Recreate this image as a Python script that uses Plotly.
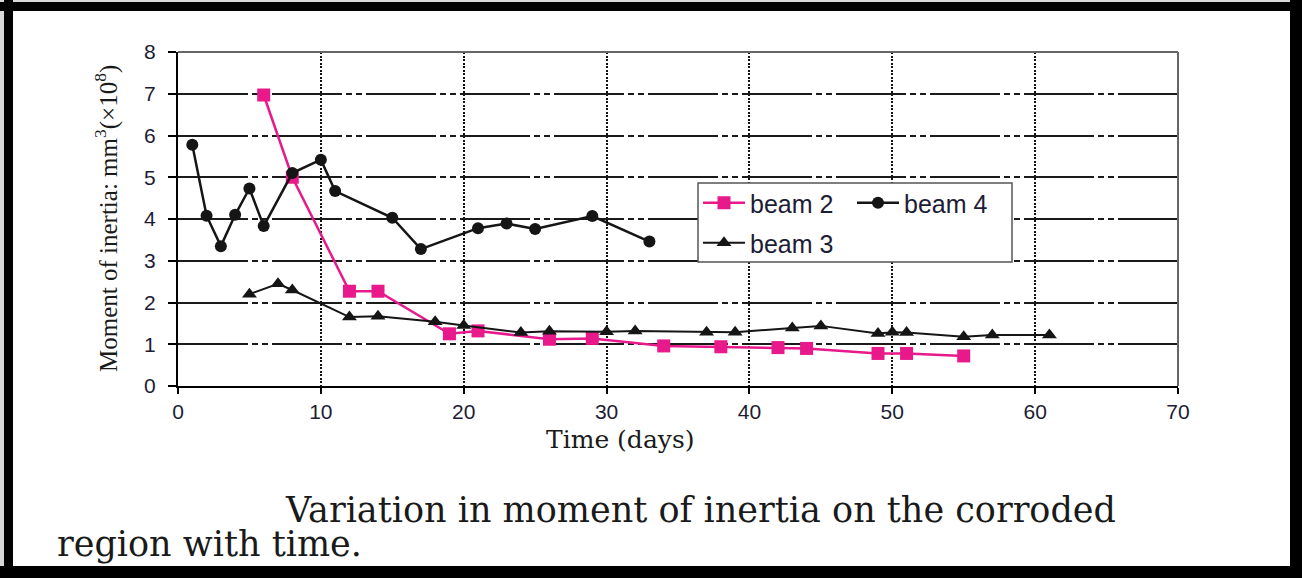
import plotly.graph_objects as go

# Moment of inertia (x10^8 mm^3) of the corroded region over time
days_beam2 = [6, 8, 12, 14, 19, 21, 26, 29, 34, 38, 42, 44, 49, 51, 55]
inertia_beam2 = [6.97, 5.00, 2.27, 2.27, 1.25, 1.32, 1.12, 1.14, 0.96, 0.94, 0.92, 0.90, 0.78, 0.78, 0.72]

days_beam4 = [1, 2, 3, 4, 5, 6, 8, 10, 11, 15, 17, 21, 23, 25, 29, 33]
inertia_beam4 = [5.78, 4.08, 3.35, 4.10, 4.73, 3.83, 5.10, 5.42, 4.67, 4.03, 3.28, 3.78, 3.89, 3.76, 4.07, 3.46]

days_beam3 = [5, 7, 8, 12, 14, 18, 20, 24, 26, 30, 32, 37, 39, 43, 45, 49, 50, 51, 55, 57, 61]
inertia_beam3 = [2.20, 2.45, 2.30, 1.65, 1.67, 1.54, 1.45, 1.28, 1.31, 1.30, 1.32, 1.29, 1.29, 1.39, 1.44,
                 1.26, 1.29, 1.28, 1.18, 1.22, 1.22]

x_ticks = [0, 10, 20, 30, 40, 50, 60, 70]
y_ticks = [0, 1, 2, 3, 4, 5, 6, 7, 8]

# page and plot-area geometry (pixels)
W, H = 1302, 578
L, R, T, B = 178, 1178, 52, 386


def px(xpix):
    return (xpix - L) / (R - L)


def py(ypix):
    return (B - ypix) / (B - T)


PINK = "#E8198B"
INK = "#151515"
SANS = "Liberation Sans, Arial, sans-serif"
SERIF = "DejaVu Serif, serif"

fig = go.Figure()
fig.add_trace(go.Scatter(
    x=days_beam2, y=inertia_beam2, name="beam 2", mode="lines+markers",
    line=dict(color=PINK, width=2.5),
    marker=dict(symbol="square", size=13, color=PINK),
    legend="legend",
))
fig.add_trace(go.Scatter(
    x=days_beam4, y=inertia_beam4, name="beam 4", mode="lines+markers",
    line=dict(color=INK, width=2.5),
    marker=dict(symbol="circle", size=12, color=INK),
    legend="legend",
))
fig.add_trace(go.Scatter(
    x=days_beam3, y=inertia_beam3, name="beam 3", mode="lines+markers",
    line=dict(color=INK, width=2),
    marker=dict(symbol="triangle-up", size=13, color=INK),
    legend="legend2",
))

shapes = []
# outer black frame
for x0, y0, x1, y1, c in [
    (0, 0, W, 2, "#d8d8d8"), (0, 0, 4, H, "#d8d8d8"),
    (0, 2, W, 11, "black"), (4, 0, 13, H, "black"),
    (1290, 0, W, H, "black"), (0, 566, W, H, "black"),
]:
    shapes.append(dict(type="rect", xref="paper", yref="paper",
                       x0=px(x0), x1=px(x1), y0=py(y1), y1=py(y0),
                       fillcolor=c, line=dict(width=0), layer="above"))
# top and right edges of the plot box
shapes.append(dict(type="line", xref="paper", yref="paper", x0=0, x1=1, y0=1, y1=1,
                   line=dict(color="#666666", width=2)))
shapes.append(dict(type="line", xref="paper", yref="paper", x0=1, x1=1, y0=0, y1=1,
                   line=dict(color="#666666", width=2)))
# legend box
shapes.append(dict(type="rect", xref="paper", yref="paper",
                   x0=px(698), x1=px(1012), y0=py(262), y1=py(183),
                   fillcolor="white", line=dict(color="#555555", width=1.5), layer="above"))

legend_font = dict(family=SANS, size=25, color="#1c1c34")

fig.update_layout(
    width=W, height=H,
    margin=dict(l=L, r=W - R, t=T, b=H - B),
    paper_bgcolor="white", plot_bgcolor="white",
    shapes=shapes,
    showlegend=True,
    legend=dict(
        orientation="h", x=px(698), xanchor="left", y=py(203), yanchor="middle",
        bgcolor="rgba(0,0,0,0)", borderwidth=0, itemwidth=42,
        entrywidth=97, entrywidthmode="pixels",
        font=legend_font,
    ),
    legend2=dict(
        orientation="h", x=px(698), xanchor="left", y=py(243), yanchor="middle",
        bgcolor="rgba(0,0,0,0)", borderwidth=0, itemwidth=42,
        font=legend_font,
    ),
    xaxis=dict(
        range=[0, 70], tickvals=x_ticks, ticktext=[str(v) for v in x_ticks],
        showline=True, linecolor="black", linewidth=2,
        ticks="outside", ticklen=6, tickwidth=1.5, tickcolor="black",
        ticklabelstandoff=0,
        showgrid=True, gridcolor="#111111", gridwidth=2, griddash="2px,1.5px",
        zeroline=False,
        tickfont=dict(family=SANS, size=21, color="#1c1c34"),
    ),
    yaxis=dict(
        range=[0, 8], tickvals=y_ticks, ticktext=[str(v) for v in y_ticks],
        showline=True, linecolor="black", linewidth=2,
        ticks="outside", ticklen=8, tickwidth=1.5, tickcolor="black",
        ticklabelstandoff=8,
        showgrid=True, gridcolor="#1a1a1a", gridwidth=1.5,
        griddash="70px,4px,6px,4px,6px,4px",
        zeroline=False,
        tickfont=dict(family=SANS, size=21, color="#1c1c34"),
    ),
    annotations=[
        dict(text="Time (days)", xref="paper", yref="paper", x=px(620), y=py(439),
             xanchor="center", yanchor="middle", showarrow=False,
             font=dict(family=SERIF, size=25, color="#1a1a1a")),
        dict(text="Moment of inertia: mm<sup>3</sup>(×10<sup>8</sup>)", textangle=-90,
             xref="paper", yref="paper", x=px(106), y=py(219),
             xanchor="center", yanchor="middle", showarrow=False,
             font=dict(family="Liberation Serif, Times New Roman, serif", size=25, color="#1a1a1a")),
        dict(text="Variation in moment of inertia on the corroded", xref="paper", yref="paper",
             x=px(283), y=py(510), xanchor="left", yanchor="middle", showarrow=False,
             font=dict(family=SERIF, size=35, color="#1a1a1a")),
        dict(text="region with time.", xref="paper", yref="paper",
             x=px(55), y=py(544), xanchor="left", yanchor="middle", showarrow=False,
             font=dict(family=SERIF, size=35, color="#1a1a1a")),
    ],
)

fig.write_html("out.html")
